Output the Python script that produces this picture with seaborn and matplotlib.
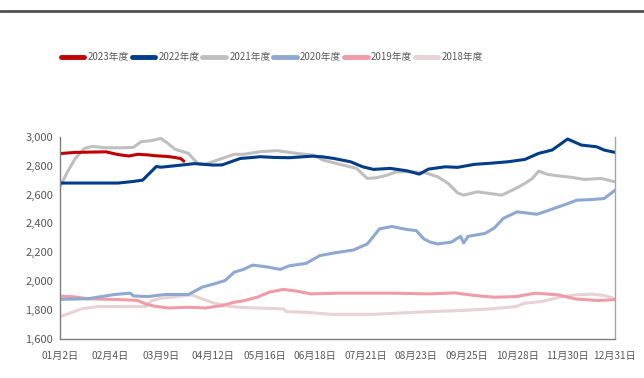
import matplotlib
matplotlib.use("Agg")
import matplotlib.pyplot as plt
import matplotlib.lines as mlines
from matplotlib.ticker import FuncFormatter
import pandas as pd
import seaborn as sns

# Day offsets counted from Jan 2; tick positions and labels
tick_days = [0, 33, 66, 100, 134, 167, 200, 233, 266, 299, 332, 363]
tick_labels = ["01月2日", "02月4日", "03月9日", "04月12日", "05月16日", "06月18日",
               "07月21日", "08月23日", "09月25日", "10月28日", "11月30日", "12月31日"]

days_2023 = [0, 10, 20, 30, 38, 45, 51, 58, 62, 70, 75, 79, 81]
vals_2023 = [2885, 2893, 2895, 2897, 2878, 2868, 2880, 2875, 2870, 2865, 2858, 2850, 2832]

days_2022 = [0, 20, 38, 47, 54, 63, 66, 75, 88, 100, 106, 118, 126, 131, 140, 150, 165,
             172, 179, 190, 198, 205, 216, 227, 235, 241, 252, 260, 271, 282, 293, 304,
             313, 322, 332, 335, 341, 351, 356, 363]
vals_2022 = [2680, 2680, 2680, 2690, 2700, 2795, 2790, 2800, 2815, 2805, 2806, 2851,
             2858, 2863, 2858, 2856, 2867, 2862, 2851, 2828, 2793, 2775, 2782, 2765,
             2742, 2777, 2793, 2789, 2810, 2818, 2828, 2844, 2886, 2910, 2986, 2972,
             2944, 2932, 2909, 2893]

days_2021 = [0, 5, 10, 16, 21, 30, 40, 48, 53, 60, 66, 70, 75, 84, 90, 95, 103, 114, 120,
             131, 142, 155, 166, 172, 183, 194, 201, 207, 214, 220, 231, 239, 247, 254,
             260, 264, 273, 289, 298, 304, 309, 313, 319, 326, 335, 343, 354, 363]
vals_2021 = [2655, 2760, 2851, 2921, 2935, 2925, 2925, 2928, 2967, 2975, 2990, 2960,
             2916, 2886, 2817, 2810, 2840, 2880, 2880, 2898, 2905, 2886, 2874, 2840,
             2810, 2782, 2712, 2717, 2735, 2758, 2758, 2751, 2724, 2677, 2612, 2596,
             2619, 2596, 2642, 2677, 2712, 2763, 2740, 2730, 2719, 2705, 2712, 2689]

days_2020 = [0, 18, 36, 46, 48, 57, 69, 84, 87, 93, 101, 108, 114, 120, 126, 135, 144,
             150, 161, 170, 179, 192, 201, 209, 217, 227, 233, 238, 242, 247, 256, 262,
             264, 267, 278, 284, 290, 299, 312, 323, 331, 338, 349, 356, 363]
vals_2020 = [1872, 1876, 1906, 1915, 1896, 1891, 1906, 1906, 1922, 1957, 1980, 2003,
             2061, 2080, 2110, 2098, 2080, 2105, 2122, 2176, 2194, 2215, 2257, 2362,
             2378, 2357, 2350, 2292, 2270, 2257, 2270, 2310, 2264, 2310, 2330, 2367,
             2435, 2480, 2463, 2503, 2533, 2561, 2566, 2573, 2630]

days_2019 = [0, 8, 18, 40, 51, 56, 62, 71, 84, 95, 106, 114, 120, 129, 137, 146, 155,
             164, 183, 216, 242, 258, 271, 284, 298, 311, 326, 337, 352, 363]
vals_2019 = [1894, 1891, 1876, 1870, 1864, 1840, 1824, 1812, 1817, 1812, 1829, 1852,
             1862, 1887, 1922, 1941, 1929, 1910, 1915, 1915, 1910, 1917, 1899, 1887,
             1891, 1915, 1903, 1875, 1864, 1870]

days_2018 = [0, 8, 14, 25, 40, 56, 60, 66, 77, 86, 93, 101, 112, 120, 146, 148, 161,
             177, 205, 242, 261, 282, 298, 304, 315, 326, 337, 348, 356, 363]
vals_2018 = [1752, 1782, 1806, 1822, 1822, 1822, 1862, 1880, 1892, 1903, 1875, 1845,
             1822, 1815, 1806, 1787, 1782, 1768, 1768, 1787, 1794, 1806, 1822, 1845,
             1857, 1885, 1903, 1908, 1899, 1878]

series = [
    ("2023年度", days_2023, vals_2023, "#c00000"),
    ("2022年度", days_2022, vals_2022, "#003c88"),
    ("2021年度", days_2021, vals_2021, "#bfbfbf"),
    ("2020年度", days_2020, vals_2020, "#8ea8d2"),
    ("2019年度", days_2019, vals_2019, "#f09ca6"),
    ("2018年度", days_2018, vals_2018, "#e8d2d5"),
]

frames = [pd.DataFrame({"day": d, "value": v, "year": name}) for name, d, v, _ in series]
df = pd.concat(frames[::-1], ignore_index=True)
palette = {name: c for name, _, _, c in series}
order = [name for name, _, _, _ in series]

sns.set_style("white")
plt.rcParams["font.family"] = ["Noto Sans CJK SC", "DejaVu Sans"]

fig = plt.figure(figsize=(6.44, 3.78), dpi=100)
ax = fig.add_axes([60 / 644, 1 - 338.5 / 378, 555 / 644, 201.5 / 378])

sns.lineplot(data=df, x="day", y="value", hue="year", hue_order=order[::-1],
             palette=palette, linewidth=2.2, sort=True, legend=False, ax=ax)

ax.set_xlim(0, 363)
ax.set_ylim(1600, 3000)
ax.set_yticks(range(1600, 3001, 200))
ax.yaxis.set_major_formatter(FuncFormatter(lambda v, p: f"{int(v):,}"))
ax.set_xticks(tick_days)
ax.set_xticklabels(tick_labels)
ax.set_xlabel("")
ax.set_ylabel("")

label_color = "#595959"
ax.tick_params(axis="y", which="major", direction="out", length=3, width=1,
               color="#7f7f7f", labelcolor=label_color, labelsize=8, pad=2)
ax.tick_params(axis="x", which="major", direction="out", length=5, width=1,
               color="#7f7f7f", labelcolor=label_color, labelsize=7.3, pad=4)
for side in ["left", "bottom"]:
    ax.spines[side].set_color("#7f7f7f")
    ax.spines[side].set_linewidth(1)
ax.spines["right"].set_color("#a6a6a6")
ax.spines["right"].set_linewidth(1)
ax.spines["top"].set_visible(False)

handles = [mlines.Line2D([], [], color=c, linewidth=3.5) for _, _, _, c in series]
fig.legend(handles, order, ncol=6, loc="center", bbox_to_anchor=(272 / 644, 1 - 57 / 378),
           frameon=False, fontsize=7, handlelength=2.4, columnspacing=0.3,
           handletextpad=0.35, labelcolor=label_color)

# Header rule across the top of the figure
fig.add_artist(mlines.Line2D([0, 1], [1 - 11 / 378, 1 - 11 / 378], transform=fig.transFigure,
                             color="#505050", linewidth=2))

fig.savefig("out.png", dpi=100)
